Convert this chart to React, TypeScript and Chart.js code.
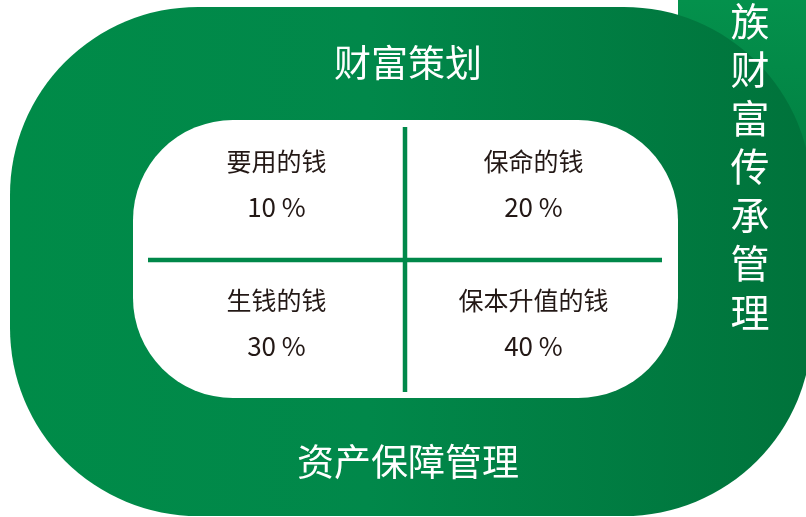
import React, { useEffect, useRef } from "react";
import { Chart, registerables } from "chart.js";

Chart.register(...registerables);

const categories = ["要用的钱", "保命的钱", "生钱的钱", "保本升值的钱"];
const shares = [10, 20, 30, 40];
const topTitle = "财富策划";
const bottomTitle = "资产保障管理";
const sideTitle = ["族", "财", "富", "传", "承", "管", "理"];

const FONT = '"Noto Sans CJK SC", "Noto Sans", sans-serif';
const TEXT_DARK = "#231815";
const LINE_GREEN = "#00884a";

const decorPlugin = {
  id: "decor",
  beforeDraw(chart: any) {
    const ctx: CanvasRenderingContext2D = chart.ctx;
    const W = chart.width;
    const H = chart.height;
    ctx.save();
    ctx.fillStyle = "#ffffff";
    ctx.fillRect(0, 0, W, H);

    // right vertical band
    const g1 = ctx.createLinearGradient(0, 0, 0, 260);
    g1.addColorStop(0, "#04914c");
    g1.addColorStop(1, "#00763c");
    ctx.fillStyle = g1;
    ctx.fillRect(678, 0, W - 678, 300);

    // big rounded shape
    const g2 = ctx.createLinearGradient(10, 0, 806, 0);
    g2.addColorStop(0, "#008b48");
    g2.addColorStop(0.45, "#01884a");
    g2.addColorStop(1, "#00733b");
    ctx.fillStyle = g2;
    ctx.beginPath();
    (ctx as any).roundRect(10, 7, 802, 509, 188);
    ctx.fill();

    // inner white box
    ctx.fillStyle = "#ffffff";
    ctx.beginPath();
    (ctx as any).roundRect(133, 120, 545, 278, 100);
    ctx.fill();

    // titles
    ctx.fillStyle = "#ffffff";
    ctx.textAlign = "center";
    ctx.textBaseline = "middle";
    ctx.font = `37px ${FONT}`;
    ctx.fillText(topTitle, 408, 63);
    ctx.fillText(bottomTitle, 408, 462);

    ctx.font = `39px ${FONT}`;
    sideTitle.forEach((ch, i) => {
      ctx.fillText(ch, 750, 21 + i * 48.5);
    });
    ctx.restore();
  },
  afterDatasetsDraw(chart: any) {
    const ctx: CanvasRenderingContext2D = chart.ctx;
    const xs = chart.scales.x;
    const ys = chart.scales.y;
    const area = chart.chartArea;
    ctx.save();
    ctx.strokeStyle = LINE_GREEN;
    ctx.lineWidth = 4.5;
    const cx = xs.getPixelForValue(0.5);
    const cy = ys.getPixelForValue(0.5);
    ctx.beginPath();
    ctx.moveTo(cx, area.top + 6);
    ctx.lineTo(cx, area.bottom - 7);
    ctx.stroke();
    ctx.beginPath();
    ctx.moveTo(area.left, cy);
    ctx.lineTo(area.right, cy);
    ctx.stroke();

    const meta = chart.getDatasetMeta(0);
    ctx.fillStyle = TEXT_DARK;
    ctx.textAlign = "center";
    ctx.textBaseline = "middle";
    meta.data.forEach((pt: any, i: number) => {
      ctx.font = `25px ${FONT}`;
      ctx.fillText(categories[i], pt.x, pt.y - 29.5);
      ctx.font = `26px ${FONT}`;
      ctx.fillText(`${shares[i]} %`, pt.x, pt.y + 17);
    });
    ctx.restore();
  },
};

export default function App() {
  const ref = useRef<HTMLCanvasElement | null>(null);
  useEffect(() => {
    document.body.style.margin = "0";
    if (!ref.current) return;
    const chart = new Chart(ref.current, {
      type: "scatter",
      data: {
        datasets: [
          {
            label: "比例",
            data: shares.map((v, i) => ({ x: i % 2, y: Math.floor(i / 2), v })),
            pointRadius: 0,
            pointHoverRadius: 0,
          },
        ],
      },
      options: {
        responsive: false,
        animation: false,
        devicePixelRatio: 1,
        layout: { padding: { left: 148, right: 144, top: 121, bottom: 118 } },
        scales: {
          x: { type: "linear", min: -0.5, max: 1.5, display: false },
          y: { type: "linear", min: -0.5, max: 1.5, reverse: true, display: false },
        },
        plugins: {
          legend: { display: false },
          tooltip: { enabled: false },
          title: { display: false },
        },
      },
      plugins: [decorPlugin],
    });
    (document as any).fonts?.load?.(`25px ${FONT}`, "要用的钱").then(() => chart.update()).catch(() => {});
    return () => chart.destroy();
  }, []);
  return (
    <div style={{ width: 806, height: 517 }}>
      <canvas ref={ref} width={806} height={517} style={{ display: "block", width: 806, height: 517 }} />
    </div>
  );
}
